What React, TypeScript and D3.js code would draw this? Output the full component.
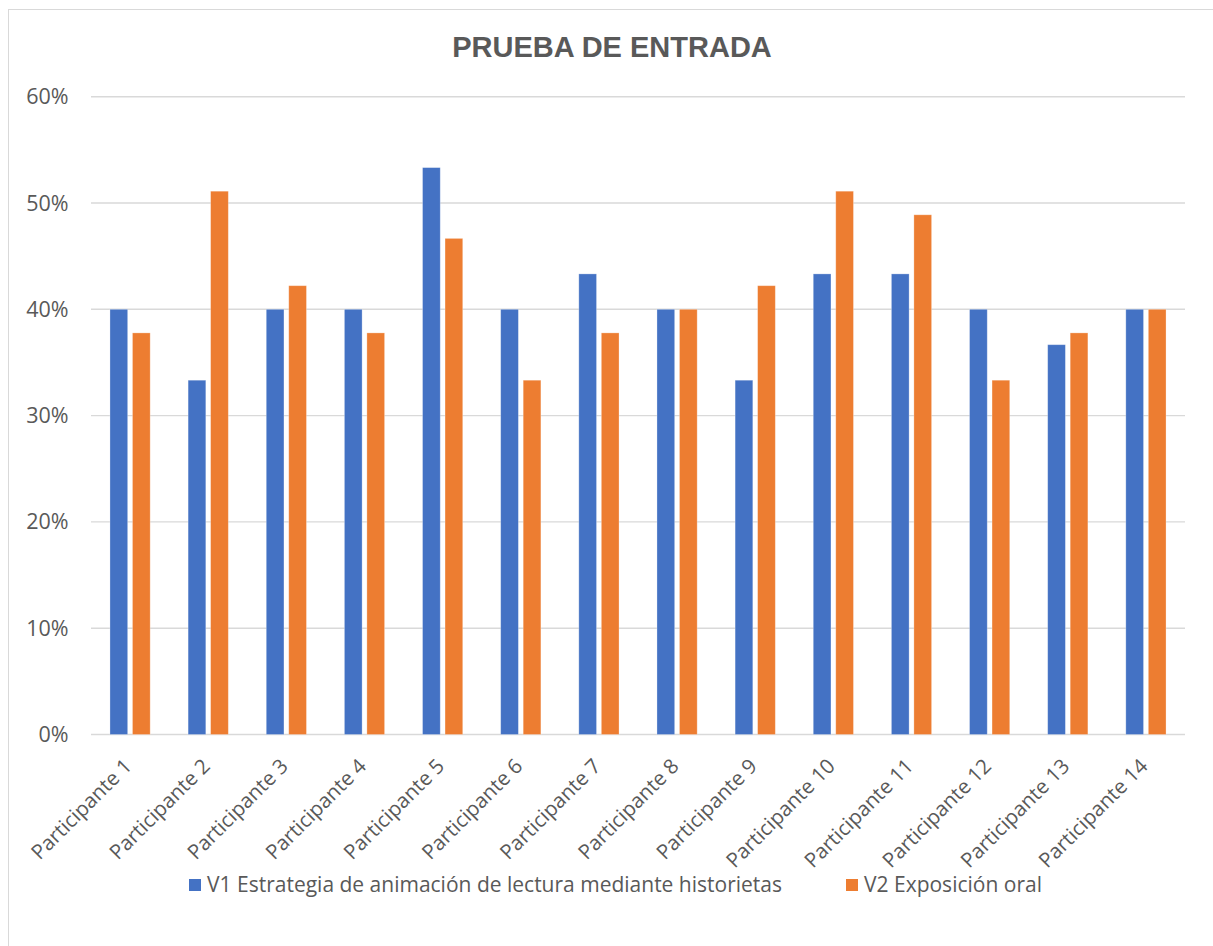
import React from "react";
import * as d3 from "d3";

const categories = [
  "Participante 1", "Participante 2", "Participante 3", "Participante 4", "Participante 5",
  "Participante 6", "Participante 7", "Participante 8", "Participante 9", "Participante 10",
  "Participante 11", "Participante 12", "Participante 13", "Participante 14",
];
const v1Values = [0.4, 0.3333, 0.4, 0.4, 0.5333, 0.4, 0.4333, 0.4, 0.3333, 0.4333, 0.4333, 0.4, 0.3667, 0.4];
const v2Values = [0.3778, 0.5111, 0.4222, 0.3778, 0.4667, 0.3333, 0.3778, 0.4, 0.4222, 0.5111, 0.4889, 0.3333, 0.3778, 0.4];
const seriesNames = ["V1 Estrategia de animación de lectura mediante historietas", "V2 Exposición oral"];
const seriesColors = ["#4472C4", "#ED7D31"];
const yTicks = [0, 0.1, 0.2, 0.3, 0.4, 0.5, 0.6];

const W = 1213;
const H = 946;
const plotLeft = 91;
const plotRight = 1185;
const plotTop = 96.7;
const plotBottom = 734.5;
const FONT = "'Open Sans', sans-serif";
const TEXT = "#595959";

export default function App() {
  const x = d3.scaleBand<string>().domain(categories).range([plotLeft, plotRight]).paddingInner(0).paddingOuter(0);
  const y = d3.scaleLinear().domain([0, 0.6]).range([plotBottom, plotTop]);
  const barW = 17.7;
  const gap = 4.8;
  const fmt = d3.format(".0%");
  const series = [v1Values, v2Values];

  return (
    <svg width={W} height={H} style={{ position: "absolute", left: 0, top: 0, background: "#fff" }}>
      <rect x={8.5} y={9.5} width={1215} height={950} fill="#fff" stroke="#d9d9d9" strokeWidth={1} />
      <text x={612} y={56.5} textAnchor="middle" fontFamily="'Liberation Sans', Arial, sans-serif" fontWeight="bold" fontSize={29} fill={TEXT}>
        PRUEBA DE ENTRADA
      </text>
      {yTicks.map((t) => (
        <g key={t}>
          <line x1={plotLeft} x2={plotRight} y1={y(t)} y2={y(t)} stroke="#d9d9d9" strokeWidth={t === 0 ? 1.6 : 1.4} />
          <text x={68.5} y={y(t)} dy="0.35em" textAnchor="end" fontFamily={FONT} fontSize={21.5} fill={TEXT}>
            {fmt(t)}
          </text>
        </g>
      ))}
      {series.map((vals, si) =>
        vals.map((v, i) => {
          const c = (x(categories[i]) as number) + x.bandwidth() / 2;
          const bx = si === 0 ? c - gap / 2 - barW : c + gap / 2;
          return (
            <rect key={`${si}-${i}`} x={bx} y={y(v)} width={barW} height={y(0) - y(v)} fill={seriesColors[si]} stroke="#fff" strokeOpacity={0.35} strokeWidth={0.8} />
          );
        })
      )}
      {categories.map((cat) => {
        const c = (x(cat) as number) + x.bandwidth() / 2;
        return (
          <text key={cat} transform={`translate(${c + 3},${plotBottom + 33}) rotate(-45)`} textAnchor="end" fontFamily={FONT} fontSize={20.5} fill={TEXT}>
            {cat}
          </text>
        );
      })}
      <g>
        <rect x={189} y={879} width={12} height={12} fill={seriesColors[0]} />
        <text x={207} y={885} dy="0.35em" fontFamily={FONT} fontSize={21} fill={TEXT}>{seriesNames[0]}</text>
        <rect x={846} y={879} width={12} height={12} fill={seriesColors[1]} />
        <text x={864} y={885} dy="0.35em" fontFamily={FONT} fontSize={21} fill={TEXT}>{seriesNames[1]}</text>
      </g>
    </svg>
  );
}
